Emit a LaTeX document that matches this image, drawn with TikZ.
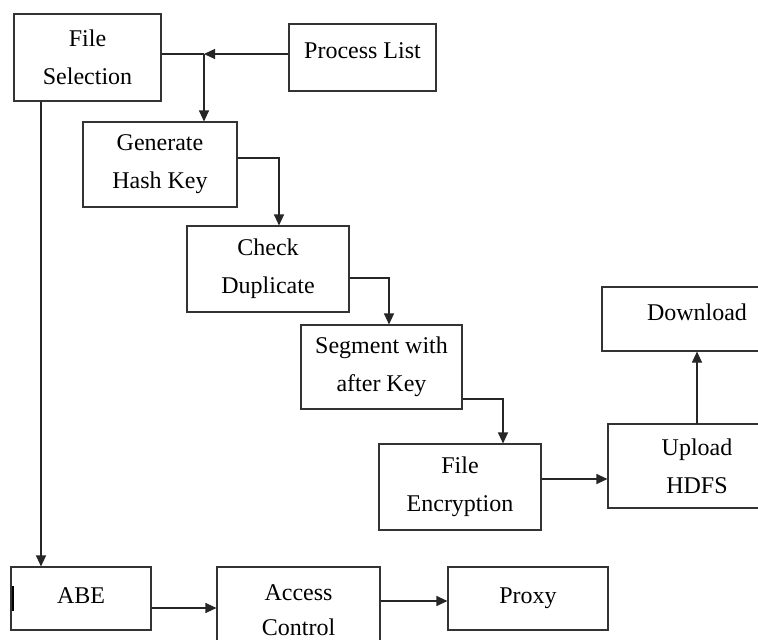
\documentclass[tikz,border=0pt]{standalone}
\usepackage{fontspec}
\setmainfont{Liberation Serif}
\usetikzlibrary{arrows.meta}

\tikzset{
	blk/.style={draw=black!80, line width=1.1pt, fill=white, align=center, inner sep=0pt, font=\fontsize{24}{38}\selectfont},
	lift/.style={text height=16pt, text depth=#1},
	arr/.style={draw=black!85, line width=1.1pt, -{Triangle[length=11pt,width=10pt]}},
	ln/.style={draw=black!85, line width=1.1pt}
}

\begin{document}
\begin{tikzpicture}[x=1pt,y=-1pt]
	\useasboundingbox (0,0) rectangle (758,640);
	\clip (0,0) rectangle (758,640);
	\fill[white] (0,0) rectangle (758,640);

	\node[blk, minimum width=147pt, minimum height=87pt] (sel) at (87.5,57.5) {File\\Selection};
	\node[blk, lift=15pt, minimum width=147pt, minimum height=67pt] (plist) at (362.5,57.5) {Process List};
	\node[blk, minimum width=154pt, minimum height=85pt] (gen) at (160,164.5) {Generate\\Hash Key};
	\node[blk, minimum width=162pt, minimum height=86pt] (chk) at (268,269) {Check\\Duplicate};
	\node[blk, minimum width=161pt, minimum height=84pt] (seg) at (381.5,367) {Segment with\\after Key};
	\node[blk, minimum width=162pt, minimum height=86pt] (enc) at (460,487) {File\\Encryption};
	\node[blk, minimum width=178pt, minimum height=84pt] (upl) at (697,466) {Upload\\HDFS};
	\node[blk, lift=14pt, minimum width=190pt, minimum height=64pt] (dl) at (697,319) {Download};
	\node[blk, lift=7pt, minimum width=140pt, minimum height=63pt] (abe) at (81,598.5) {ABE};
	\node[blk, font=\fontsize{24}{35}\selectfont, minimum width=163pt, minimum height=87pt] (acc) at (298.5,610.5) {Access\\Control};
	\node[blk, lift=7pt, minimum width=160pt, minimum height=63pt] (proxy) at (528,598.5) {Proxy};

	\coordinate (jn) at (204,54);
	\draw[ln] (sel.east |- jn) -- (jn);
	\draw[arr] (plist.west |- jn) -- (jn);
	\draw[arr] (jn) -- (jn |- gen.north);
	\draw[arr] (gen.east |- 0,158) -| (279,0 |- chk.north);
	\draw[arr] (chk.east |- 0,278) -| (389,0 |- seg.north);
	\draw[arr] (seg.east |- 0,399) -| (503,0 |- enc.north);
	\draw[arr] (enc.east |- 0,479) -- (upl.west |- 0,479);
	\draw[arr] (upl) ++(0,-42) -- (dl.south);
	\draw[arr] (41,0 |- sel.south) -- (41,0 |- abe.north);
	\draw[arr] (abe.east |- 0,608) -- (acc.west |- 0,608);
	\draw[arr] (acc.east |- 0,601) -- (proxy.west |- 0,601);
	\draw[line width=2.5pt] (13,586) -- (13,611);
\end{tikzpicture}
\end{document}
